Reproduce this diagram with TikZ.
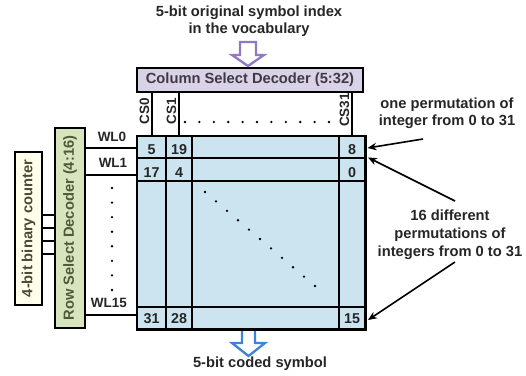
\documentclass[tikz,border=0pt]{standalone}
\usepackage{fontspec}
\setmainfont{Liberation Sans}
\usetikzlibrary{arrows.meta}
\definecolor{gridfill}{HTML}{CCE4F0}
\definecolor{cdfill}{HTML}{DAD2E6}
\definecolor{rdfill}{HTML}{D7E4BD}
\definecolor{cntfill}{HTML}{FFFFEC}
\definecolor{purp}{HTML}{9078C2}
\definecolor{blu}{HTML}{3E82DA}
\definecolor{txt}{HTML}{262626}
\definecolor{cdtxt}{HTML}{3C3A44}
\definecolor{rdtxt}{HTML}{4E5A38}
\definecolor{cnttxt}{HTML}{4A4A34}
\begin{document}
\begin{tikzpicture}[x=1pt,y=-1pt,
  every node/.style={font=\fontsize{14.7}{17}\selectfont\bfseries, text=txt, inner sep=0},
  box/.style={draw=black, line width=2pt},
  gridline/.style={line width=2.8pt},
  wire/.style={line width=2.7pt},
  celltxt/.style={font=\fontsize{14.3}{17}\selectfont\bfseries},
  lbl/.style={font=\fontsize{13.5}{16}\selectfont\bfseries},
  cslbl/.style={font=\fontsize{13.5}{16}\selectfont\bfseries, rotate=90, anchor=south},
  pointer/.style={line width=1.6pt, -{Stealth[length=9pt,width=7.5pt]}},
  hollow/.style={line width=2.3pt, fill=white, line join=miter},
]
\useasboundingbox (0,0) rectangle (526,375);

% memory grid
\node[fill=gridfill, minimum width=228, minimum height=193, anchor=north west] (grid) at (137,136) {};
\draw[gridline] (grid.north west) rectangle (grid.south east);
\foreach \x in {166,192,339} \draw[gridline] (grid.north -| \x,0) -- (grid.south -| \x,0);
\foreach \y in {158,181,307} \draw[gridline] (grid.west |- 0,\y) -- (grid.east |- 0,\y);

% cell values
\node[celltxt] (n00) at (151.5,149.5) {5};
\node[celltxt] (n01) at (179,149.5) {19};
\node[celltxt] (n031) at (352,149.5) {8};
\node[celltxt] (n10) at (151.5,172.5) {17};
\node[celltxt] (n11) at (179,172.5) {4};
\node[celltxt] (n131) at (352,172.5) {0};
\node[celltxt] (n150) at (151.5,319) {31};
\node[celltxt] (n151) at (179,319) {28};
\node[celltxt] (n1531) at (352,319) {15};

% diagonal dots
\foreach \i in {0,...,10} \fill (205+\i*11,192+\i*9.4) circle (1.3);

% column decoder
\node[box, fill=cdfill, text=cdtxt, minimum width=226, minimum height=24] (cdec) at (250,80) {Column Select Decoder (5:32)};
\foreach \x in {152,179,352} \draw[wire] (cdec.south -| \x,0) -- (grid.north -| \x,0);
\node[cslbl] (cs0) at (149.5,111) {CS0};
\node[cslbl] (cs1) at (176.5,111) {CS1};
\node[cslbl] (cs31) at (349.5,110) {CS31};
\foreach \i in {0,...,10} \fill (185+\i*14.4,122) circle (1.3);

% row decoder and counter
\node[box, fill=rdfill, text=rdtxt, rotate=90, minimum width=200, minimum height=30] (rdec) at (70,228) {Row Select Decoder (4:16)};
\node[box, fill=cntfill, text=cnttxt, rotate=90, minimum width=153, minimum height=27] (cnt) at (28.5,228.5) {4-bit binary counter};
\foreach \y in {215,228,241,254} \draw[wire] (cnt.south |- 0,\y) -- (rdec.north |- 0,\y);

% word lines
\foreach \y in {148,175,315} \draw[wire] (rdec.south |- 0,\y) -- (grid.west |- 0,\y);
\node[lbl] (wl0) at (112,137) {WL0};
\node[lbl] (wl1) at (113,163) {WL1};
\node[lbl] (wl15) at (109,303) {WL15};
\foreach \i in {0,...,7} \fill (112,188+\i*14.57) circle (1.3);

% input / output
\node[align=center] (intxt) at (249,21.5) {5-bit original symbol index\\in the vocabulary};
\draw[hollow, draw=purp] (240,42) -- (256,42) -- (256,55) -- (264,55) -- (248,66) -- (232,55) -- (240,55) -- cycle;
\draw[hollow, draw=blu] (242,331) -- (242,343) -- (232,343) -- (248.5,356) -- (265,343) -- (255,343) -- (255,331);
\node (outtxt) at (260,364) {5-bit coded symbol};

% annotations
\node[align=center] (t1) at (447,113.5) {one permutation of\\integer from 0 to 31};
\node[align=center, font=\fontsize{14.7}{18}\selectfont\bfseries] (t2) at (450,235) {16 different\\permutations of\\integers from 0 to 31};
\coordinate (s1) at (423,139);
\coordinate (e1) at (367.5,148);
\coordinate (s2) at (455,201);
\coordinate (e2) at (368,157.5);
\coordinate (s3) at (455,262);
\coordinate (e3) at (368,320);
\draw[pointer] (s1) -- (e1);
\draw[pointer] (s2) -- (e2);
\draw[pointer] (s3) -- (e3);
\end{tikzpicture}
\end{document}
